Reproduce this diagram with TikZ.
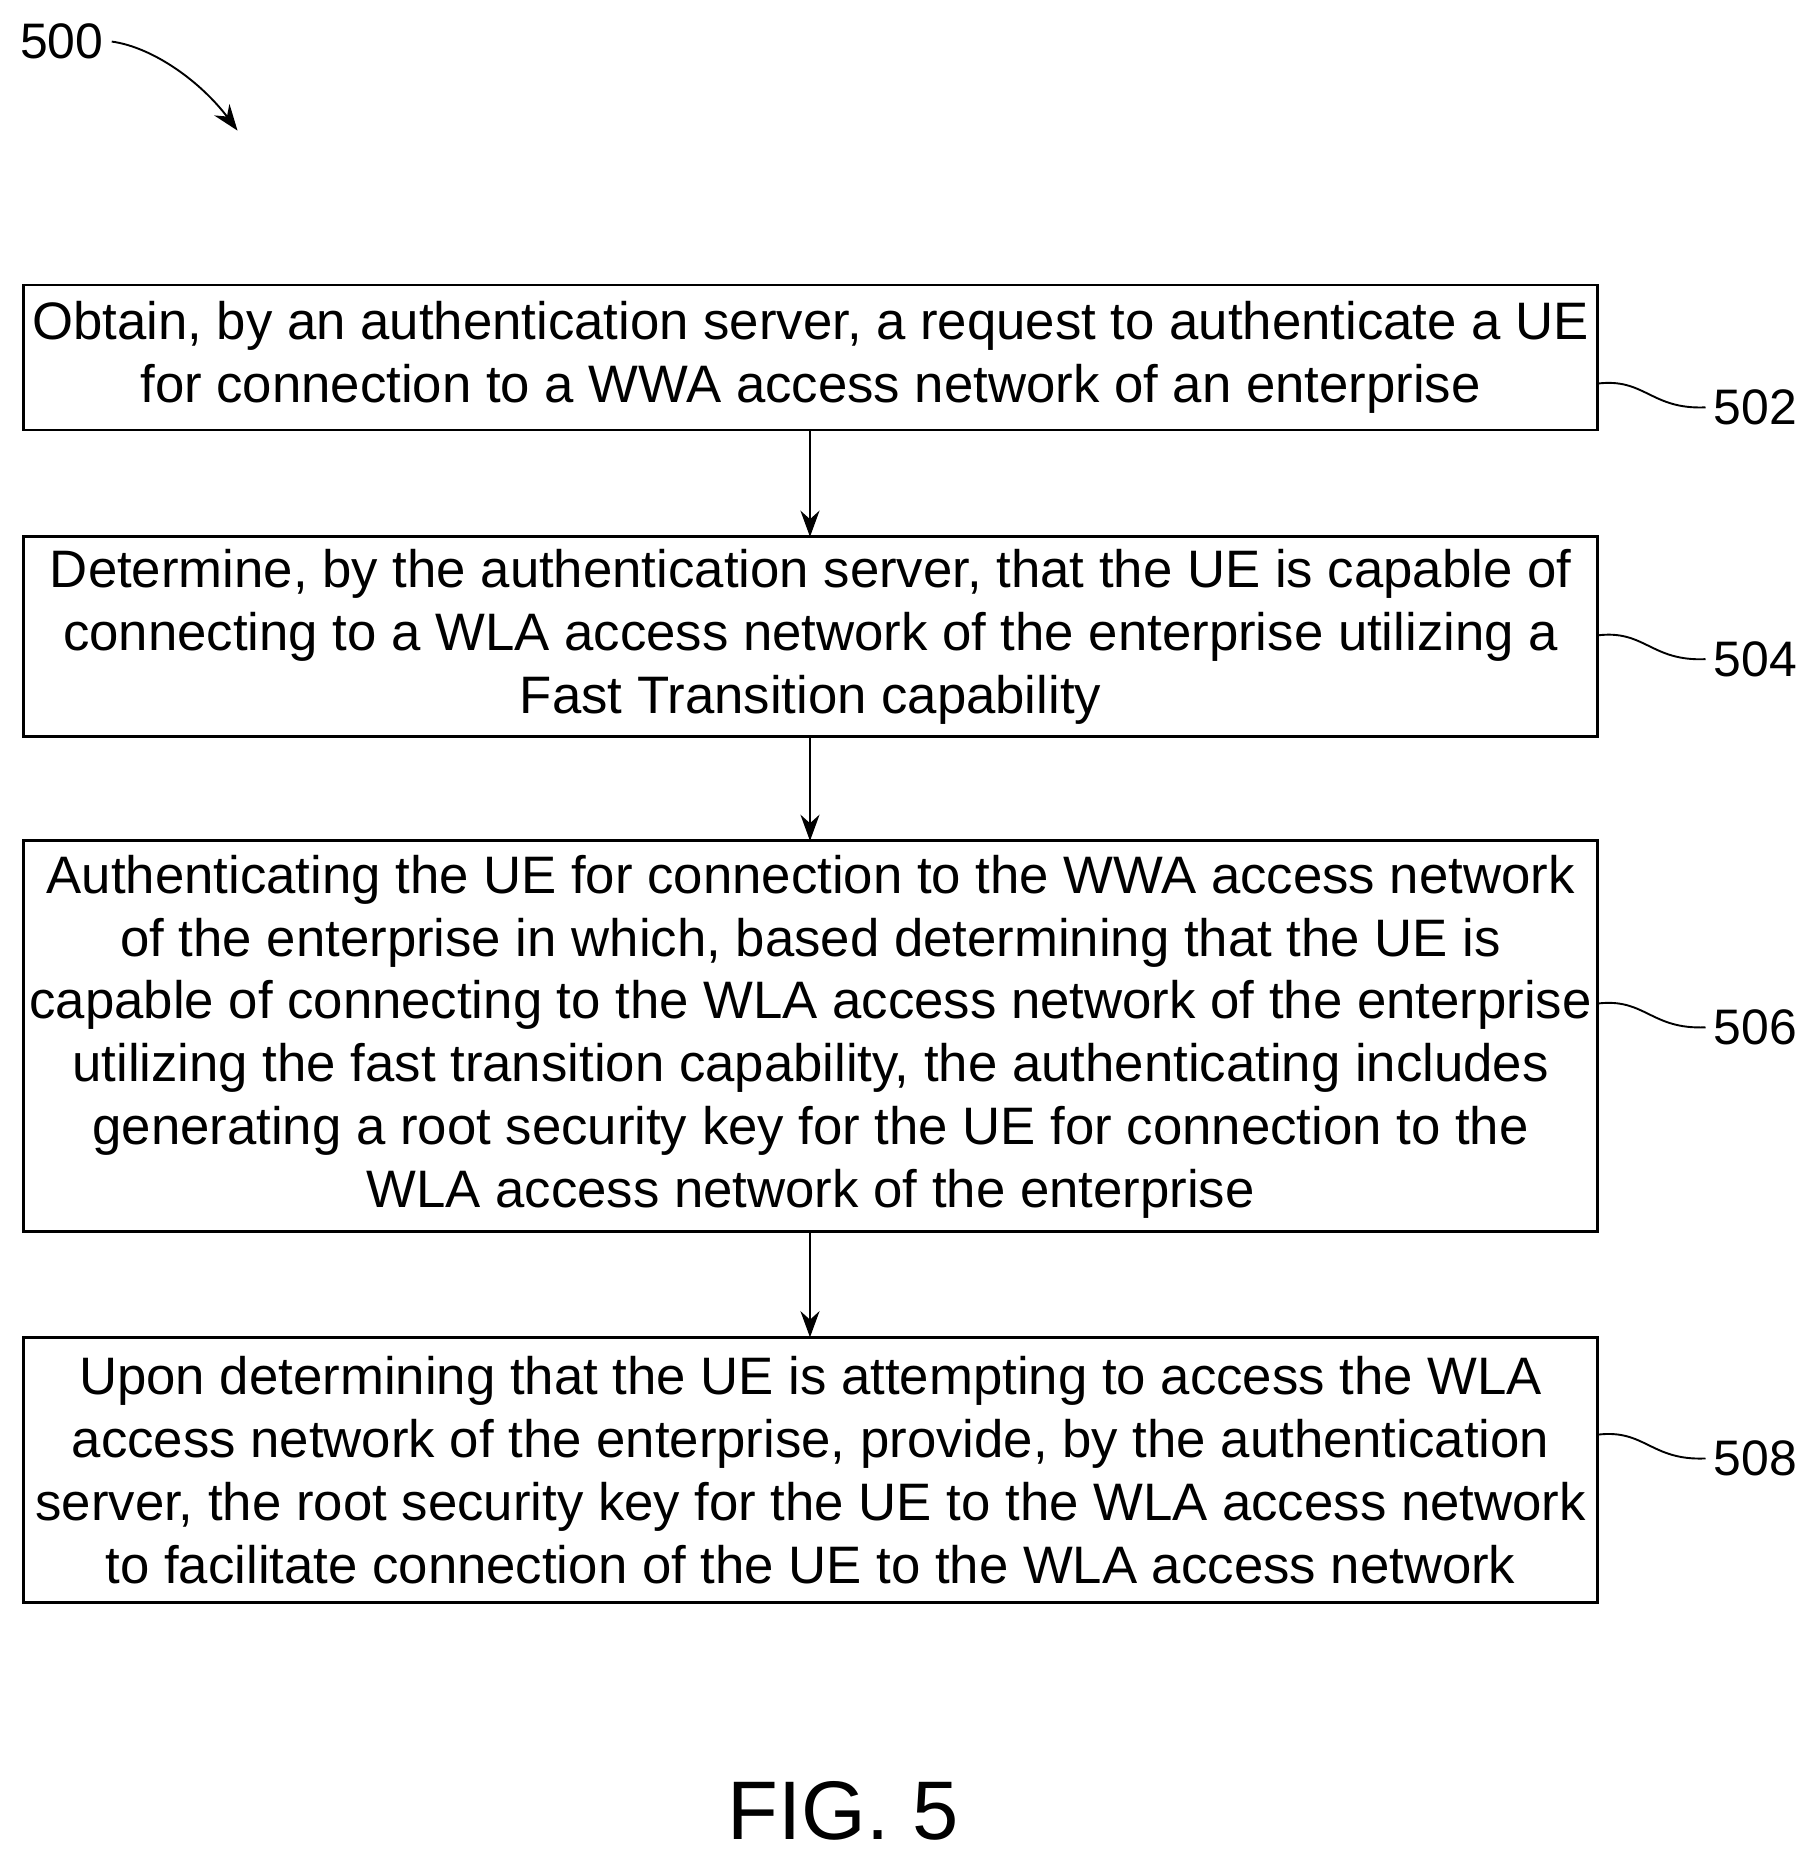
\documentclass[tikz,border=0pt]{standalone}
\usepackage{fontspec}
\setmainfont{Liberation Sans}
\usetikzlibrary{arrows.meta}
\begin{document}
\begin{tikzpicture}[x=0.5pt,y=-0.5pt,
 box/.style={draw,line width=1.2pt,align=center,font=\fontsize{22.2}{26.5}\selectfont,inner sep=0pt},
 arr/.style={-{Stealth[length=11pt,width=8pt]},line width=1.1pt},
 lab/.style={font=\fontsize{21}{25}\selectfont},
 sq/.style={line width=0.8pt}]
\useasboundingbox (0,0) rectangle (1530,1572);
\draw[box] (20,240) rectangle (1345,362);
\node[box,draw=none] (b1) at (682.5,301) {Obtain, by an authentication server, a request to authenticate a UE\\for connection to a WWA access network of an enterprise};
\coordinate (b1t) at (682,240); \coordinate (b1b) at (682,362);
\draw[box] (20,452) rectangle (1345,620);
\node[box,draw=none] (b2) at (682.5,536) {Determine, by the authentication server, that the UE is capable of\\connecting to a WLA access network of the enterprise utilizing a\\Fast Transition capability};
\coordinate (b2t) at (682,452); \coordinate (b2b) at (682,620);
\draw[box] (20,708) rectangle (1345,1037);
\node[box,draw=none] (b3) at (682.5,873) {Authenticating the UE for connection to the WWA access network\\of the enterprise in which, based determining that the UE is\\capable of connecting to the WLA access network of the enterprise\\utilizing the fast transition capability, the authenticating includes\\generating a root security key for the UE for connection to the\\WLA access network of the enterprise};
\coordinate (b3t) at (682,708); \coordinate (b3b) at (682,1037);
\draw[box] (20,1126) rectangle (1345,1349);
\node[box,draw=none] (b4) at (682.5,1238) {Upon determining that the UE is attempting to access the WLA\\access network of the enterprise, provide, by the authentication\\server, the root security key for the UE to the WLA access network\\to facilitate connection of the UE to the WLA access network};
\coordinate (b4t) at (682,1126);
\draw[arr] (b1b) -- (b2t);
\draw[arr] (b2b) -- (b3t);
\draw[arr] (b3b) -- (b4t);
\foreach \n/\y in {502/323,504/535,506/845,508/1208}{
 \node[lab,anchor=west] (l\n) at (1436,\y+20) {\n};
 \draw[sq] (1345,\y) .. controls (1385,\y-5) and (1390,\y+22) .. (1436,\y+20);
}
\node[lab] (l500) at (52,35) {500};
\coordinate (a500) at (200,110);
\draw[arr,line width=0.8pt] (l500.east) .. controls (130,40) and (170,70) .. (a500);
\node[font=\fontsize{35}{40}\selectfont] (fig) at (710,1525) {FIG. 5};
\end{tikzpicture}
\end{document}
